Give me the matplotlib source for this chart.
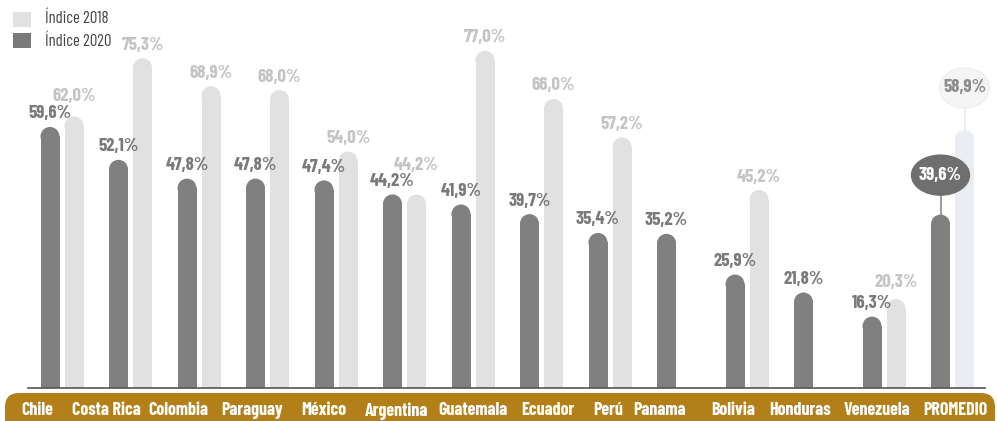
import numpy as np
import matplotlib.pyplot as plt
from matplotlib.patches import Ellipse, FancyBboxPatch, Rectangle
from matplotlib.transforms import IdentityTransform

paises = ['Chile', 'Costa Rica', 'Colombia', 'Paraguay', 'México', 'Argentina',
          'Guatemala', 'Ecuador', 'Perú', 'Panama', 'Bolivia', 'Honduras',
          'Venezuela', 'PROMEDIO']
indice_2020 = [59.6, 52.1, 47.8, 47.8, 47.4, 44.2, 41.9, 39.7, 35.4, 35.2, 25.9, 21.8, 16.3, 39.6]
indice_2018 = [62.0, 75.3, 68.9, 68.0, 54.0, 44.2, 77.0, 66.0, 57.2, None, 45.2, None, 20.3, 58.9]

# hand placement of the text in the original (pixels)
nombre_dx = [-13, -12, -9, -3, 0, 4, 12, 18, 10, -7, -2, -3, 5, 15]
label18_dy = {0: 7, 5: 16, 12: 4}

plt.rcParams['font.family'] = ['Barlow Condensed', 'DejaVu Sans']

DARK = '#808080'
LIGHT = '#e1e1e1'
PROM_LIGHT = '#eaeef3'
GOLD = '#b27f18'

W, H = 997, 421
fig = plt.figure(figsize=(W / 100, H / 100), dpi=100)
ax = fig.add_axes([0, 0, 1, 1])
ax.axis('off')
ax.set_zorder(2)
ax.patch.set_visible(False)

# pixel layout -> data limits
px_step, x0_px, base_px, px_per_pct = 68.5, 50, 388, 4.38
ax.set_xlim(-x0_px / px_step, (W - x0_px) / px_step)
ax.set_ylim(-(H - base_px) / px_per_pct, base_px / px_per_pct)

bw = 19 / px_step
off = 24 / px_step
ry = (bw / 2) * px_step / px_per_pct  # cap radius in y units
lab_dy = 13 / px_per_pct


def pct(v):
    return f'{v:.1f}%'.replace('.', ',')


def rounded_bar(x, v, color):
    ax.bar(x, v - ry, width=bw, color=color, bottom=0, zorder=2, linewidth=0)
    ax.add_patch(Ellipse((x, v - ry), bw, 2 * ry, color=color, zorder=2, linewidth=0))


x = np.arange(len(paises))
last = len(paises) - 1
for i, (v20, v18) in enumerate(zip(indice_2020, indice_2018)):
    rounded_bar(x[i], v20, DARK)
    if v18 is not None:
        rounded_bar(x[i] + off, v18, PROM_LIGHT if i == last else LIGHT)
    if i == last:
        continue
    ax.text(x[i], v20 + lab_dy, pct(v20), ha='center', va='center',
            color='#7a7a7a', fontsize=13.5, fontweight='bold', zorder=3)
    if v18 is not None:
        dy = lab_dy + label18_dy.get(i, 0) / px_per_pct
        ax.text(x[i] + off, v18 + dy, pct(v18), ha='center', va='center',
                color='#c4c4c4', fontsize=13.5, fontweight='bold', zorder=3)

# promedio bubbles
v20, v18 = indice_2020[last], indice_2018[last]
e_h = 40 / px_per_pct
cy20 = v20 + 9.0
ax.plot([x[last], x[last]], [v20, cy20], color='#8a8a8a', lw=1.2, zorder=1)
ax.add_patch(Ellipse((x[last], cy20), 58 / px_step, e_h, color='#6f6f6f', zorder=4))
ax.text(x[last], cy20, pct(v20), ha='center', va='center',
        color='white', fontsize=13.5, fontweight='bold', zorder=5)
cy18 = v18 + 9.6
ax.plot([x[last] + off, x[last] + off], [v18, cy18], color='#ececec', lw=1.2, zorder=1)
ax.add_patch(Ellipse((x[last] + off, cy18), 50 / px_step, e_h, facecolor='#f5f5f5',
                     edgecolor='#efefef', zorder=4))
ax.text(x[last] + off, cy18, pct(v18), ha='center', va='center',
        color='#8c8c8c', fontsize=13.5, fontweight='bold', zorder=5)

# baseline
ax.plot([-0.32, 13.65], [0, 0], color='#555555', lw=1.2, zorder=3)

# golden band at the bottom (display pixels, y up)
band = FancyBboxPatch((5, -20), 990, 48, boxstyle='round,pad=0,rounding_size=14',
                      transform=IdentityTransform(), facecolor=GOLD, edgecolor='none', zorder=1)
fig.patches.append(band)
for i, p in enumerate(paises):
    ax.text(x[i] + nombre_dx[i] / px_step, -5.2, p, ha='center', va='center',
            color='white', fontsize=13, fontweight='bold', zorder=5)

# legend
fig.patches.append(Rectangle((13, H - 27), 18, 15, transform=IdentityTransform(),
                             facecolor=LIGHT, edgecolor='none'))
fig.patches.append(Rectangle((13, H - 48), 18, 15, transform=IdentityTransform(),
                             facecolor='#7a7a7a', edgecolor='none'))
fig.text(45 / W, 1 - 18 / H, 'Índice 2018', ha='left', va='center', color='#444444', fontsize=12)
fig.text(45 / W, 1 - 41 / H, 'Índice 2020', ha='left', va='center', color='#444444', fontsize=12)

fig.savefig('out.png', dpi=100, facecolor='white')
